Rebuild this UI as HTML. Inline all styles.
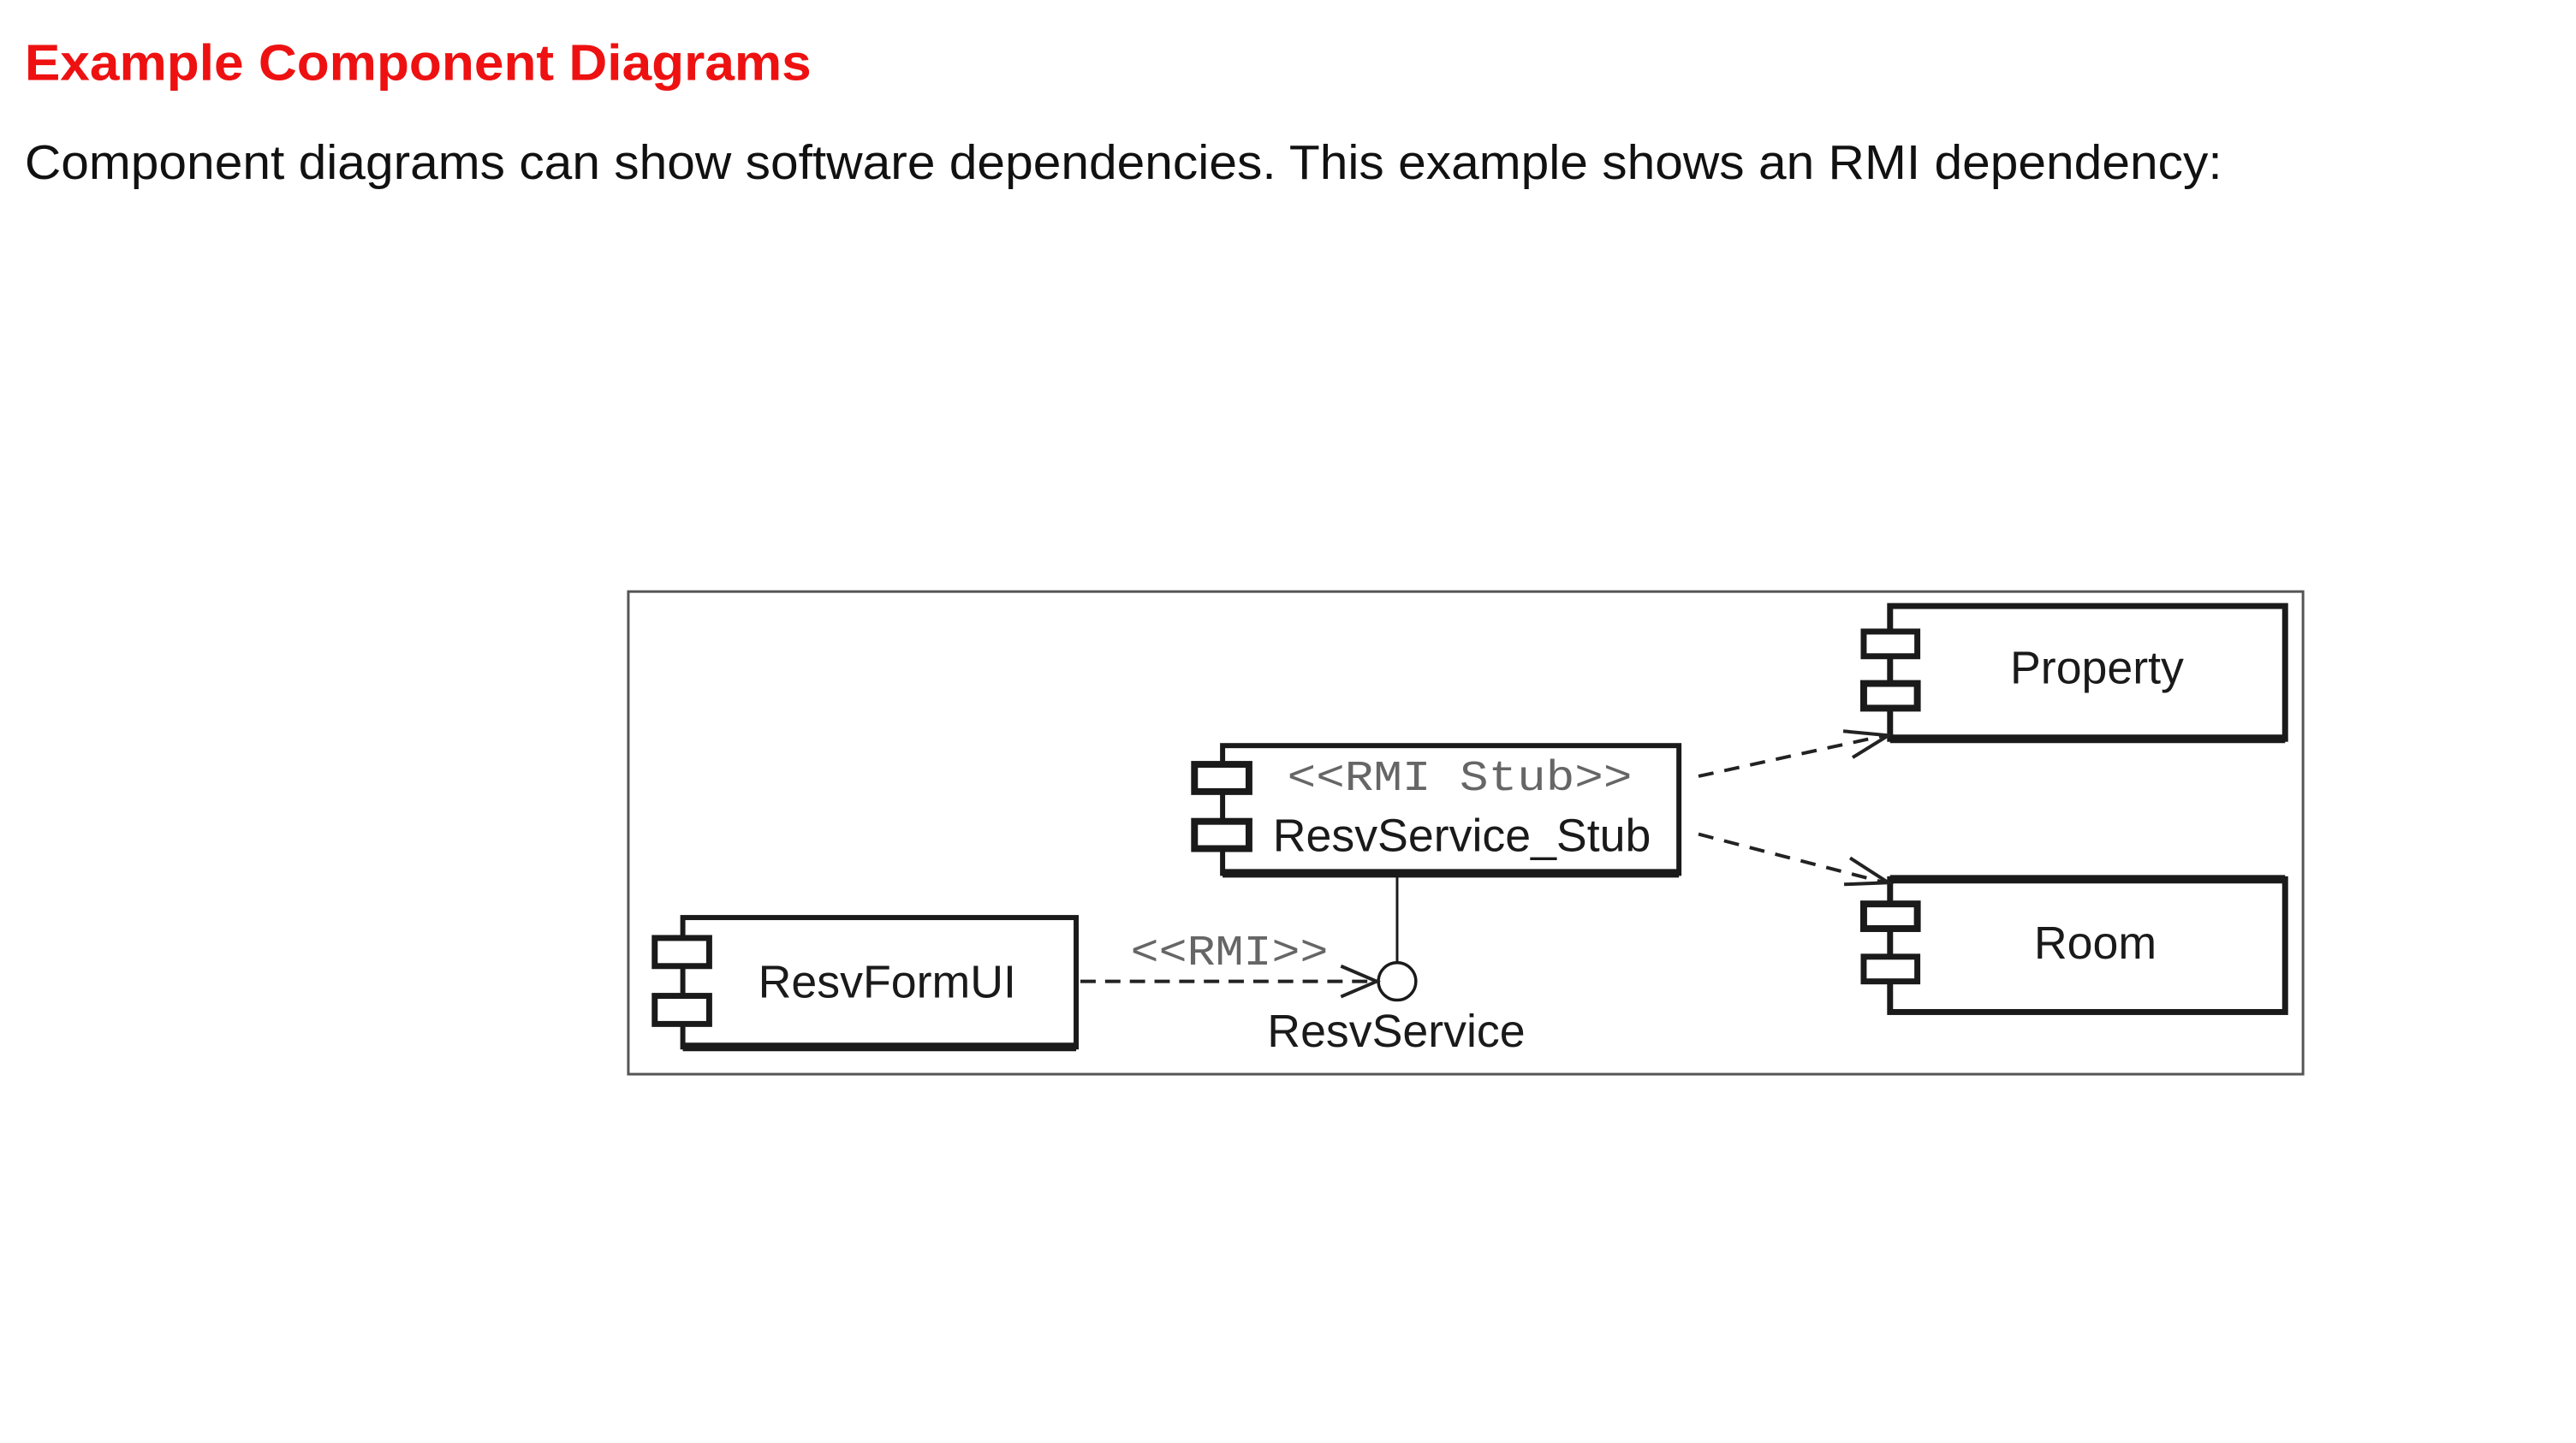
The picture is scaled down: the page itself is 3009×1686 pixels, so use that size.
<!DOCTYPE html>
<html><head><meta charset="utf-8"><style>
html,body{margin:0;padding:0;background:#fff;width:3009px;height:1686px;overflow:hidden}
svg{display:block}
</style></head><body>
<svg width="3009" height="1686" viewBox="0 0 3009 1686" xmlns="http://www.w3.org/2000/svg">
<g transform="scale(0.9945)">
<text x="29" y="94" font-family="Liberation Sans, sans-serif" font-weight="bold" font-size="60" fill="#ee1111" textLength="924" lengthAdjust="spacingAndGlyphs">Example Component Diagrams</text>
<text x="29" y="210" font-family="Liberation Sans, sans-serif" font-size="57" fill="#111" textLength="2581" lengthAdjust="spacingAndGlyphs">Component diagrams can show software dependencies. This example shows an RMI dependency:</text>

<rect x="738" y="695" width="1967" height="567" fill="none" stroke="#555" stroke-width="3"/>

<g stroke="#1a1a1a" fill="#fff">
<rect x="2220" y="712" width="464" height="156" stroke-width="7"/>
<line x1="2220" y1="868" x2="2684" y2="868" stroke-width="10"/>
<rect x="2189" y="742" width="63" height="29" stroke-width="7"/>
<rect x="2189" y="803" width="63" height="29" stroke-width="8"/>
<rect x="2220" y="1033" width="464" height="156" stroke-width="7"/>
<line x1="2220" y1="1033" x2="2684" y2="1033" stroke-width="10"/>
<rect x="2189" y="1062" width="63" height="29" stroke-width="8"/>
<rect x="2189" y="1124" width="63" height="29" stroke-width="7"/>
<rect x="1436" y="876" width="536" height="150" stroke-width="6"/>
<line x1="1436" y1="1026" x2="1972" y2="1026" stroke-width="10"/>
<rect x="1403" y="898" width="64" height="32" stroke-width="8"/>
<rect x="1403" y="965" width="64" height="32" stroke-width="8"/>
<rect x="802" y="1078" width="462" height="152" stroke-width="6"/>
<line x1="802" y1="1230" x2="1264" y2="1230" stroke-width="10"/>
<rect x="769" y="1102" width="64" height="33" stroke-width="7"/>
<rect x="769" y="1170" width="64" height="33" stroke-width="7"/>
</g>

<line x1="1641" y1="1030" x2="1641" y2="1131" stroke="#1a1a1a" stroke-width="3"/>
<circle cx="1641" cy="1153" r="22" fill="#fff" stroke="#1a1a1a" stroke-width="3.5"/>

<g stroke="#222" stroke-width="4" fill="none">
<line x1="1269" y1="1153" x2="1615" y2="1153" stroke-dasharray="18,11"/>
<polyline points="1575,1135 1617,1153 1575,1171"/>
<line x1="1995" y1="912" x2="2214" y2="864" stroke-dasharray="18,13"/>
<polyline points="2165,859 2218,864 2176,890"/>
<line x1="1995" y1="980" x2="2214" y2="1037" stroke-dasharray="18,13"/>
<polyline points="2173,1008 2218,1037 2166,1039"/>
</g>

<g font-family="Liberation Sans, sans-serif" fill="#1a1a1a" text-anchor="middle" font-size="54">
<text x="2463" y="803">Property</text>
<text x="2461" y="1126">Room</text>
<text x="1717" y="1000">ResvService_Stub</text>
<text x="1042" y="1172">ResvFormUI</text>
<text x="1640" y="1230">ResvService</text>
</g>
<g font-family="Liberation Mono, monospace" fill="#666" font-size="50">
<text x="1512" y="928" textLength="405" lengthAdjust="spacingAndGlyphs">&lt;&lt;RMI Stub&gt;&gt;</text>
<text x="1328" y="1133" textLength="232" lengthAdjust="spacingAndGlyphs">&lt;&lt;RMI&gt;&gt;</text>
</g>
</g>
</svg>
</body></html>
